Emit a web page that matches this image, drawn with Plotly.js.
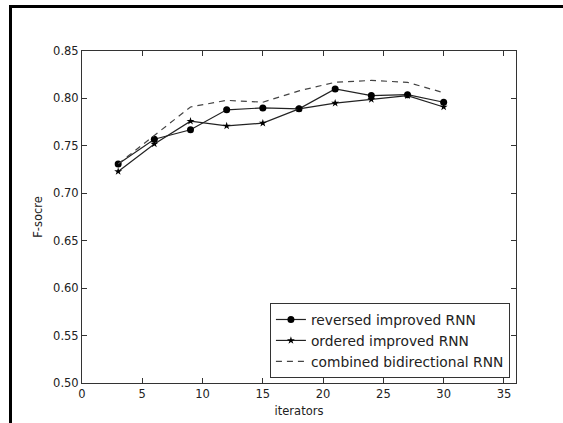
<!DOCTYPE html>
<html>
<head>
<meta charset="utf-8">
<script src="https://cdn.plot.ly/plotly-3.0.1.min.js"></script>
<style>
html,body{margin:0;padding:0;background:#fff;}
#wrap{position:relative;width:563px;height:423px;overflow:hidden;}
#chart{position:absolute;left:0;top:0;width:563px;height:423px;}
#frame{position:absolute;left:9px;top:5px;width:600px;height:500px;border-left:3px solid #000;border-top:3px solid #000;pointer-events:none;}
</style>
</head>
<body>
<div id="wrap"><div id="chart"></div><div id="frame"></div></div>
<script>
const iterations = [3, 6, 9, 12, 15, 18, 21, 24, 27, 30];
const reversedRNN = [0.731, 0.757, 0.767, 0.788, 0.790, 0.789, 0.810, 0.803, 0.804, 0.796];
const orderedRNN  = [0.723, 0.752, 0.776, 0.771, 0.774, 0.789, 0.795, 0.799, 0.803, 0.791];
const combinedRNN = [0.731, 0.761, 0.791, 0.798, 0.796, 0.808, 0.817, 0.819, 0.817, 0.806];
const seriesNames = ["reversed improved RNN", "ordered improved RNN", "combined bidirectional RNN"];
const xTickVals = [0, 5, 10, 15, 20, 25, 30, 35];
const yTickVals = [0.50, 0.55, 0.60, 0.65, 0.70, 0.75, 0.80, 0.85];

const font = {family: "DejaVu Sans, sans-serif", size: 11.5, color: "#222"};

const traces = [
  {x: iterations, y: reversedRNN, name: seriesNames[0], mode: "lines+markers",
   line: {color: "#222", width: 1.2}, marker: {symbol: "circle", size: 7, color: "#000"}},
  {x: iterations, y: orderedRNN, name: seriesNames[1], mode: "lines+markers",
   line: {color: "#222", width: 1.2}, marker: {symbol: "star", size: 6, color: "#000"}},
  {x: iterations, y: combinedRNN, name: seriesNames[2], mode: "lines",
   line: {color: "#444", width: 1.2, dash: "6px,5px"}}
];

const axisCommon = {
  showline: true, linecolor: "#333", linewidth: 1, mirror: "ticks",
  ticks: "inside", ticklen: 5, tickcolor: "#333", showgrid: false, zeroline: false,
  tickfont: font
};

const layout = {
  width: 563, height: 423,
  margin: {l: 82, r: 47, t: 51, b: 40},
  paper_bgcolor: "#fff", plot_bgcolor: "#fff",
  font: font,
  showlegend: true,
  xaxis: Object.assign({}, axisCommon, {
    range: [0, 36], tickvals: xTickVals, ticktext: xTickVals.map(String),
    title: {text: "iterators", font: font, standoff: 7}
  }),
  yaxis: Object.assign({}, axisCommon, {
    range: [0.5, 0.85], tickvals: yTickVals, ticktext: yTickVals.map(v => v.toFixed(2)),
    title: {text: "F-socre", font: font, standoff: 8}
  }),
  legend: {
    x: 0.986, y: 0.015, xanchor: "right", yanchor: "bottom",
    bordercolor: "#333", borderwidth: 1, bgcolor: "#fff",
    font: {family: "DejaVu Sans, sans-serif", size: 13.8, color: "#222"},
    tracegroupgap: 0
  }
};

Plotly.newPlot("chart", traces, layout, {displayModeBar: false, staticPlot: true});
</script>
</body>
</html>
